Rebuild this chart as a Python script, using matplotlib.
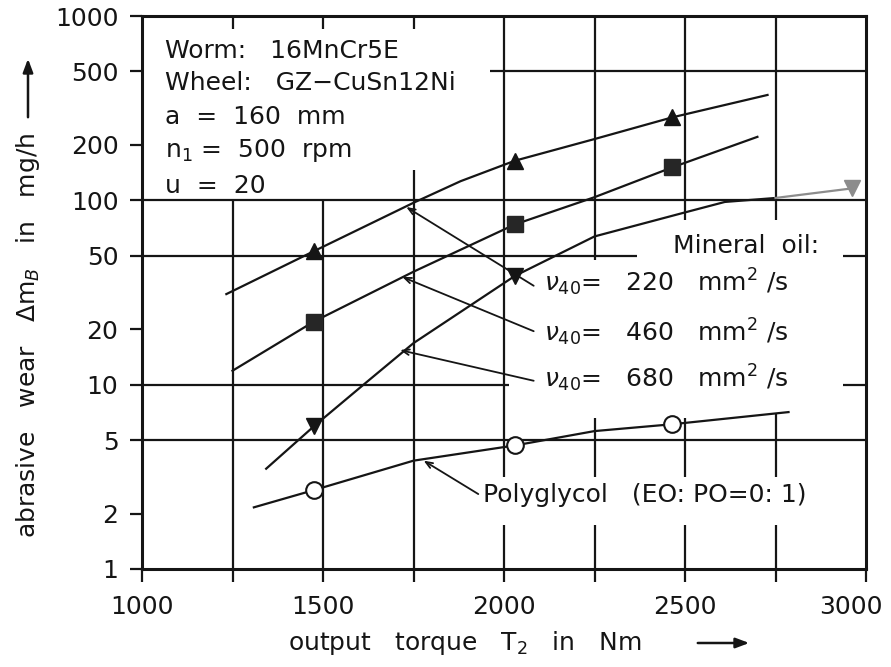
# abrasive wear of worm gear vs output torque, log y, several lubricants

import matplotlib
matplotlib.use("Agg")
from matplotlib import pyplot as plt
from matplotlib.ticker import NullLocator
from matplotlib.transforms import ScaledTranslation

# measured points (markers)
pts_x_220 = [1475, 2030, 2465]
pts_y_220 = [53, 164, 282]
pts_x_460 = [1475, 2030, 2465]
pts_y_460 = [22, 74, 151]
pts_x_680 = [1475, 2030]
pts_y_680 = [5.95, 38.9]
pts_x_680_gray = [2960]
pts_y_680_gray = [116]
pts_x_pg = [1475, 2030, 2465]
pts_y_pg = [2.68, 4.68, 6.1]

# fitted curves
curve_x_220 = [1233, 1475, 1750, 1880, 2030, 2250, 2465, 2728]
curve_y_220 = [31, 53, 97, 127, 164, 215, 282, 373]
curve_x_460 = [1250, 1475, 1750, 2030, 2250, 2465, 2700]
curve_y_460 = [11.9, 22, 41, 74, 104, 151, 221]
curve_x_680 = [1343, 1475, 1612, 1750, 2030, 2250, 2500, 2610, 2750]
curve_y_680 = [3.5, 5.95, 10, 16.8, 38.9, 63.7, 86, 98, 103]
curve_x_680_gray = [2750, 2960]
curve_y_680_gray = [103, 116]
curve_x_pg = [1309, 1475, 1750, 2030, 2250, 2465, 2786]
curve_y_pg = [2.16, 2.68, 3.87, 4.68, 5.6, 6.1, 7.1]

# leader lines: (tip x, tip y, tail x, tail y)
leaders = [(1730, 92, 2082, 34.4),
           (1719, 38.4, 2082, 19.5),
           (1713, 15.4, 2082, 10.5),
           (1778, 3.87, 1929, 2.55)]

xticks = [1000, 1250, 1500, 1750, 2000, 2250, 2500, 2750, 3000]
xticklabels = ["1000", "", "1500", "", "2000", "", "2500", "", "3000"]
yticks = [1, 2, 5, 10, 20, 50, 100, 200, 500, 1000]
yticklabels = ["1", "2", "5", "10", "20", "50", "100", "200", "500", "1000"]

# grid pieces, broken where the text sits
vgrid = [(1250, 1, 100), (1500, 1, 100), (1750, 1, 146),
         (2000, 1, 1.73), (2000, 3.16, 1000),
         (2250, 1, 1.73), (2250, 3.16, 6.6), (2250, 47.5, 1000),
         (2500, 1, 1.73), (2500, 3.16, 6.6), (2500, 78, 1000),
         (2750, 1, 1.73), (2750, 3.16, 6.9), (2750, 78, 1000)]
hgrid = [(500, 1960, 3000), (100, 1000, 3000),
         (50, 1000, 2368), (50, 2937, 3000),
         (10, 1000, 2014), (10, 2937, 3000), (5, 1000, 3000)]

fs = 18
ink = "#151515"
gray = "#8c8c8c"

fig = plt.figure(figsize=(8.91, 6.67), dpi=100)
ax = fig.add_axes([142 / 891, 1 - 569 / 667, 724 / 891, 553 / 667])
ax.set_yscale("log")
ax.set_xlim(1000, 3000)
ax.set_ylim(1, 1000)

for x, y0, y1 in vgrid:
	ax.vlines(x, y0, y1, color=ink, lw=1.6, zorder=1)
for y, x0, x1 in hgrid:
	ax.hlines(y, x0, x1, color=ink, lw=1.6, zorder=1)
# short inward ticks on top
for x in [1250, 1500, 1750]:
	ax.vlines(x, 850, 1000, color=ink, lw=1.6, zorder=1)

# curves
ax.plot(curve_x_220, curve_y_220, color=ink, lw=1.6, zorder=3)
ax.plot(curve_x_460, curve_y_460, color=ink, lw=1.6, zorder=3)
ax.plot(curve_x_680, curve_y_680, color=ink, lw=1.6, zorder=3)
ax.plot(curve_x_680_gray, curve_y_680_gray, color=gray, lw=1.6, zorder=3)
ax.plot(curve_x_pg, curve_y_pg, color=ink, lw=1.6, zorder=3)

# markers
ax.plot(pts_x_220, pts_y_220, ls="none", marker="^", ms=12, color=ink, zorder=4)
ax.plot(pts_x_460, pts_y_460, ls="none", marker="s", ms=11, color="#262626", zorder=4)
ax.plot(pts_x_680, pts_y_680, ls="none", marker="v", ms=12, color=ink, zorder=4)
ax.plot(pts_x_680_gray, pts_y_680_gray, ls="none", marker="v", ms=12, color=gray, zorder=4)
ax.plot(pts_x_pg, pts_y_pg, ls="none", marker="o", ms=12, mfc="white", mec=ink, mew=1.5, zorder=4)

for tx, ty, sx, sy in leaders:
	ax.annotate("", xy=(tx, ty), xytext=(sx, sy),
		arrowprops=dict(arrowstyle="->,head_length=0.5,head_width=0.2", color=ink, lw=1.3,
			shrinkA=0, shrinkB=0), zorder=2)

# text block, upper left
block = ["Worm:   16MnCr5E", "Wheel:   GZ\u2212CuSn12Ni", "a  =  160  mm",
         "n$_1$ =  500  rpm", "u  =  20"]
block_y = [0.924, 0.866, 0.805, 0.745, 0.680]
for s, yy in zip(block, block_y):
	ax.text(0.032, yy, s, transform=ax.transAxes, fontsize=fs, color=ink, va="baseline", ha="left")

ax.text(2871, 51.6, "Mineral  oil:", fontsize=fs, color=ink, ha="right", va="baseline")
ax.text(2110, 31.9, r"$\nu_{40}$=   220   mm$^2$ /s", fontsize=fs, color=ink, ha="left", va="baseline")
ax.text(2110, 17.2, r"$\nu_{40}$=   460   mm$^2$ /s", fontsize=fs, color=ink, ha="left", va="baseline")
ax.text(2110, 9.63, r"$\nu_{40}$=   680   mm$^2$ /s", fontsize=fs, color=ink, ha="left", va="baseline")
ax.text(1942, 2.31, "Polyglycol   (EO: PO=0: 1)", fontsize=fs, color=ink, ha="left", va="baseline")

# axes and ticks
ax.set_xticks(xticks)
ax.set_xticklabels(xticklabels)
ax.set_yticks(yticks)
ax.set_yticklabels(yticklabels)
ax.yaxis.set_minor_locator(NullLocator())
ax.tick_params(axis="both", direction="out", length=9, width=1.6, colors=ink, labelsize=fs)
ax.tick_params(axis="x", pad=10)
ax.tick_params(axis="y", pad=8)
for sp in ax.spines.values():
	sp.set_linewidth(2.2)
	sp.set_color(ink)
# last x label sits a bit left of its tick, as in the drawing
last = ax.get_xticklabels()[-1]
last.set_transform(last.get_transform() + ScaledTranslation(-0.15, 0, fig.dpi_scale_trans))

# axis titles with arrows
fig.text(465 / 891, 1 - 643 / 667, "output   torque   T$_2$   in   Nm", fontsize=fs, color=ink,
	ha="center", va="center")
fig.text(28 / 891, 1 - 335 / 667, r"abrasive   wear   $\Delta$m$_B$   in   mg/h", fontsize=fs,
	color=ink, ha="center", va="center", rotation=90)
ax.annotate("", xy=(752 / 891, 1 - 643 / 667), xytext=(695 / 891, 1 - 643 / 667),
	xycoords="figure fraction", textcoords="figure fraction",
	arrowprops=dict(arrowstyle="-|>,head_length=0.8,head_width=0.3", color=ink, lw=1.8))
ax.annotate("", xy=(28 / 891, 1 - 56 / 667), xytext=(28 / 891, 1 - 120 / 667),
	xycoords="figure fraction", textcoords="figure fraction",
	arrowprops=dict(arrowstyle="-|>,head_length=0.8,head_width=0.3", color=ink, lw=1.8))

fig.savefig("out.png", dpi=100)
